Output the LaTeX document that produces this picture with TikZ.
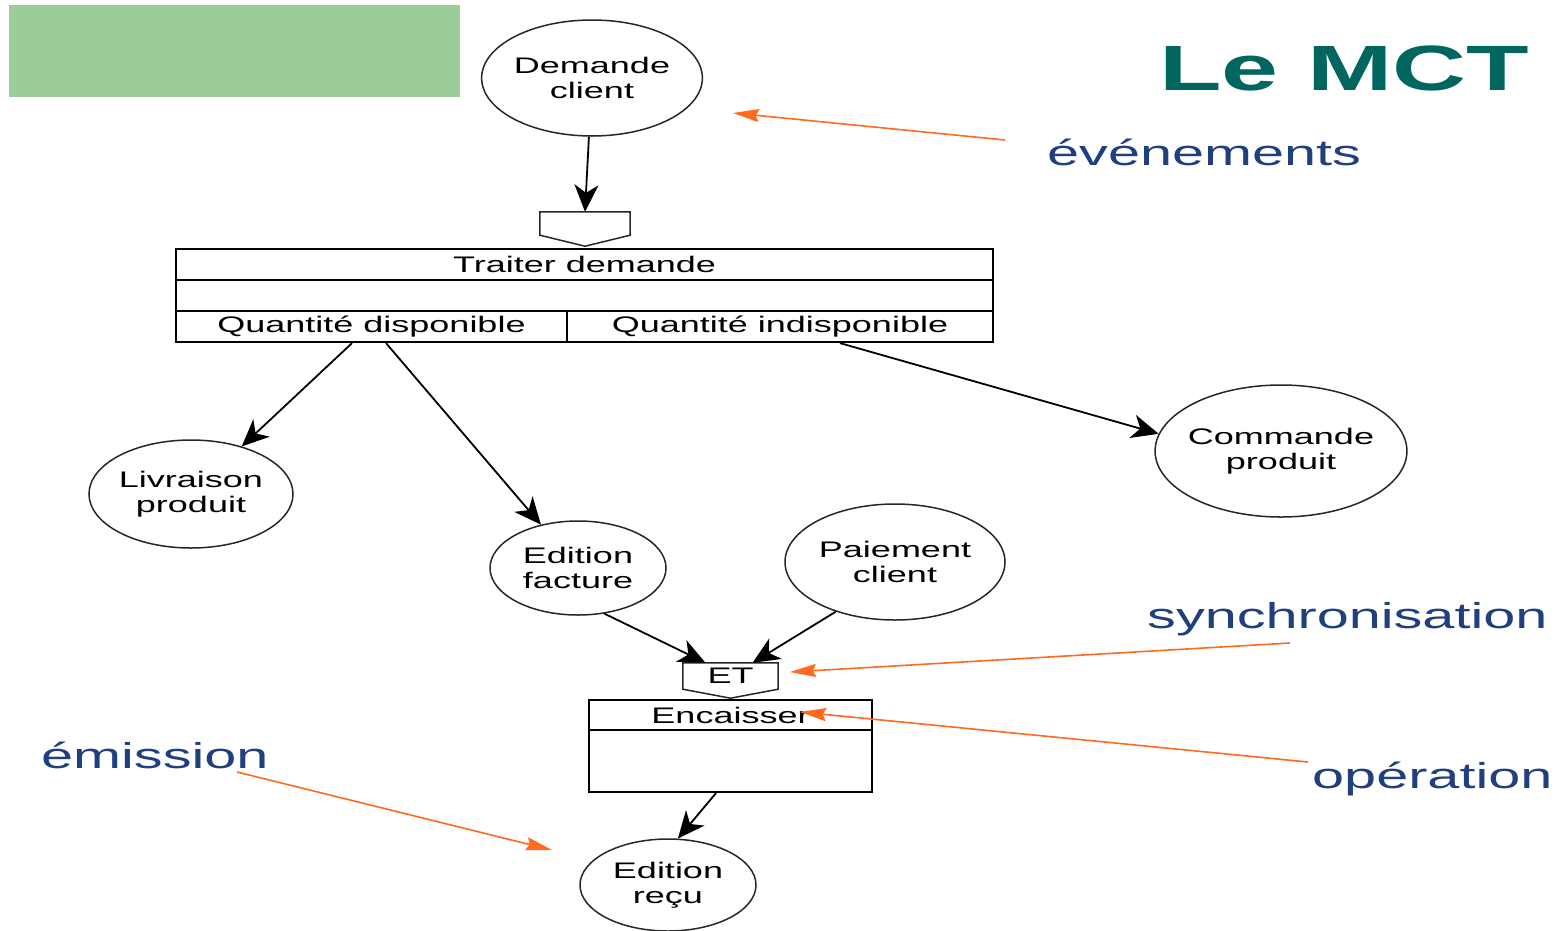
\documentclass[tikz,border=0pt]{standalone}
\usepackage{fontspec}
\setmainfont[FakeStretch=1.6]{Liberation Sans}
\usetikzlibrary{arrows.meta,positioning,shapes.geometric}
\definecolor{vertfond}{HTML}{9BCC9A}
\definecolor{titre}{HTML}{00665F}
\definecolor{bleulbl}{HTML}{1F3F7F}
\definecolor{orangefl}{HTML}{FF6A1F}

\begin{document}
\begin{tikzpicture}[x=1pt,y=-1pt,font=\fontsize{22.5}{25}\selectfont,
    evt/.style={ellipse,draw=black!85,line width=1.5pt,inner sep=0pt,align=center},
    row/.style={rectangle,draw,line width=2.2pt,inner sep=0pt,minimum height=31pt},
    synchro/.style={rectangle,inner sep=0pt},
    lbl/.style={text=bleulbl,font=\fontsize{36}{40}\selectfont,anchor=base west,inner sep=0pt}]

  \useasboundingbox (0,0) rectangle (1565,930);
  \fill[vertfond] (9,5) rectangle (460,97);

  % evenements
  \node[evt,minimum width=220pt,minimum height=116pt] (demande)   at (592,78)  {Demande\\client};
  \node[evt,minimum width=204pt,minimum height=108pt] (livraison) at (191,494) {Livraison\\produit};
  \node[evt,minimum width=176pt,minimum height=94pt]  (facture)   at (578,568) {Edition\\facture};
  \node[evt,minimum width=220pt,minimum height=116pt] (paiement)  at (895,562) {Paiement\\client};
  \node[evt,minimum width=250pt,minimum height=132pt,inner xsep=-4pt] (commande) at (1281,451) {Commande\\produit};
  \node[evt,minimum width=176pt,minimum height=92pt]  (recu)      at (668,885) {Edition\\reçu};

  % operation Traiter demande
  \node[synchro,minimum width=90pt,minimum height=23pt] (entree) at (585,223.5) {};
  \draw[line width=1.5pt,draw=black!85] (entree.north west) -- (entree.north east) -- (entree.south east)
    -- ([yshift=-11pt]entree.south) -- (entree.south west) -- cycle;
  \node[row,minimum width=817pt] (traiter)  at (584.5,264.5) {Traiter demande};
  \node[row,minimum width=817pt] (vide)     at (584.5,295.5) {};
  \node[row,minimum width=391pt] (qdispo)   at (371.5,326.5) {Quantité disponible};
  \node[row,minimum width=426pt] (qindispo) at (780,326.5)   {Quantité indisponible};

  % operation Encaisser
  \node[synchro,minimum width=95pt,minimum height=26pt] (et) at (730.5,676) {ET};
  \draw[line width=1.5pt,draw=black!85] (et.north west) -- (et.north east) -- (et.south east)
    -- ([yshift=-9pt]et.south) -- (et.south west) -- cycle;
  \node[row,minimum width=283pt,minimum height=30pt] (encaisser) at (730.5,715) {Encaisser};
  \node[row,minimum width=283pt,minimum height=62pt] (corps)     at (730.5,761) {};

  \tikzset{flech/.style={-{Stealth[length=27pt,width=24pt,inset=8pt]},line width=1.8pt}}
  \path (demande)                    edge [flech] (entree.north)
        ([xshift=-19.5pt]qdispo.south) edge [flech] (livraison)
        ([xshift=14.5pt]qdispo.south)  edge [flech] (facture)
        ([xshift=60pt]qindispo.south)  edge [flech] (commande.172)
        (facture.-60)                edge [flech] ([xshift=-25pt]et.north)
        (paiement.-140)              edge [flech] ([xshift=22pt]et.north)
        ([xshift=-14.5pt]corps.south)  edge [flech] (recu.78);

  % legendes
  \node[text=titre,font=\bfseries\fontsize{64}{70}\selectfont,anchor=base west,inner sep=0pt] (mct) at (1159,90) {Le MCT};
  \node[lbl] (lev)   at (1047,165) {événements};
  \node[lbl] (lsync) at (1147,628) {synchronisation};
  \node[lbl] (lem)   at (41,768)   {émission};
  \node[lbl] (lop)   at (1312,788) {opération};

  \coordinate (ev1) at (1005,140);  \coordinate (ev2) at (733,113);
  \coordinate (sy1) at (1290,643);  \coordinate (sy2) at (790,672);
  \coordinate (op1) at (1308,762);  \coordinate (op2) at (800,712);
  \coordinate (em1) at (237,772);   \coordinate (em2) at (552,850);
  \tikzset{flechorange/.style={-{Stealth[length=26pt,width=13pt,inset=3pt]},line width=1.6pt,draw=orangefl,fill=orangefl}}
  \path (ev1) edge [flechorange] (ev2)
        (sy1) edge [flechorange] (sy2)
        (op1) edge [flechorange] (op2)
        (em1) edge [flechorange] (em2);
\end{tikzpicture}
\end{document}
